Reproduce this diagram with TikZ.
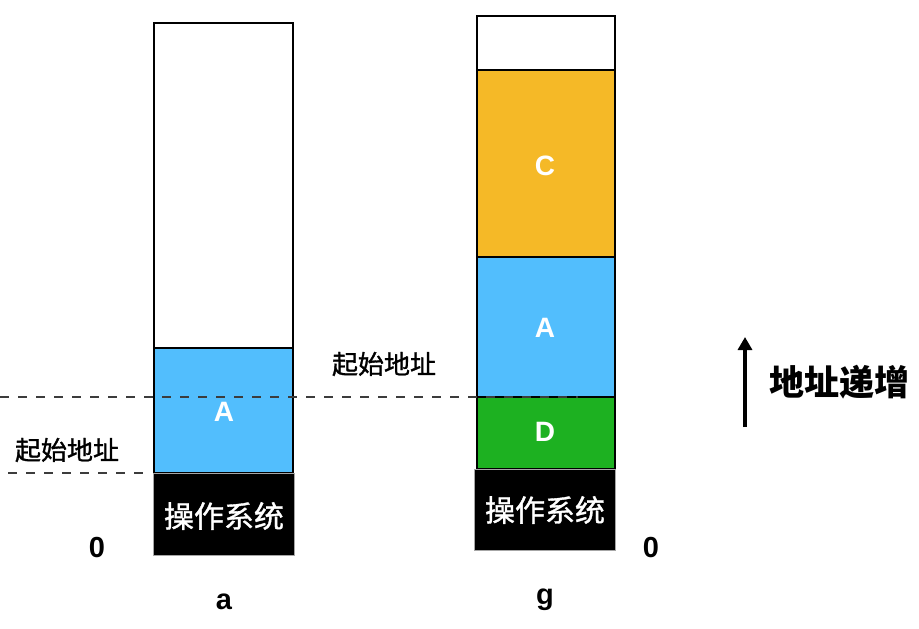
\documentclass[tikz,border=0pt]{standalone}
\usepackage{fontspec}
\setmainfont{Liberation Sans}
\newfontfamily\cjk{Noto Sans CJK SC}
\newfontfamily\cjkmed[FakeBold=1.2]{Noto Sans CJK SC}
\usetikzlibrary{arrows.meta}
\definecolor{memblue}{RGB}{82,190,253}
\definecolor{memorange}{RGB}{245,185,39}
\definecolor{memgreen}{RGB}{29,177,33}
\definecolor{dashgray}{RGB}{60,60,60}
\tikzset{
  seg/.style={draw=black, line width=1.4pt, anchor=north west, inner sep=0pt, outer sep=0pt},
  ostext/.style={text=white, font=\cjkmed\fontsize{30}{30}\selectfont},
  lettertext/.style={text=white, font=\bfseries\fontsize{28}{28}\selectfont},
  addrlabel/.style={font=\cjkmed\fontsize{26}{26}\selectfont},
  axislabel/.style={font=\bfseries\fontsize{29}{29}\selectfont},
  dashline/.style={draw=dashgray, line width=1.8pt, dash pattern=on 9pt off 9pt},
}
\begin{document}
\begin{tikzpicture}[x=1pt,y=-1pt]
\useasboundingbox (0,0) rectangle (919,629);
% left column (a)
\node[seg, fill=white, minimum width=139pt, minimum height=325pt] (afree) at (154,23) {};
\node[seg, fill=memblue, minimum width=139pt, minimum height=125pt] (aA) at (154,348) {};
\node[seg, draw=gray!70, line width=0.8pt, fill=black, minimum width=141pt, minimum height=82pt] (aos) at (153,473) {};
\node[lettertext] (aAt) at (224,412) {A};
\node[ostext] (aost) at (224,516) {操作系统};
% right column (g)
\node[seg, fill=white, minimum width=138pt, minimum height=54pt] (gfree) at (477,16) {};
\node[seg, fill=memorange, minimum width=138pt, minimum height=187pt] (gC) at (477,70) {};
\node[seg, fill=memblue, minimum width=138pt, minimum height=140pt] (gA) at (477,257) {};
\node[seg, fill=memgreen, minimum width=138pt, minimum height=72pt] (gD) at (477,397) {};
\node[seg, draw=gray!70, line width=0.8pt, fill=black, minimum width=141pt, minimum height=81pt] (gos) at (474,469) {};
\node[lettertext] (gCt) at (545,166) {C};
\node[lettertext] (gAt) at (545,328) {A};
\node[lettertext] (gDt) at (545,432) {D};
\node[ostext] (gost) at (545,510) {操作系统};
% dashed address lines
\coordinate (d1s) at (0,397);
\coordinate (d1e) at (578,397);
\draw[dashline] (d1s) -- (d1e);
\coordinate (d2s) at (8,473);
\coordinate (d2e) at (148,473);
\draw[dashline] (d2s) -- (d2e);
\node[addrlabel] (lab1) at (67,450) {起始地址};
\node[addrlabel] (lab2) at (384,364) {起始地址};
% zeros and column names
\node[axislabel] (z1) at (97,548) {0};
\node[axislabel] (z2) at (651,548) {0};
\node[axislabel] (na) at (224,602) {a};
\node[axislabel] (ng) at (545,600) {g};
% address increase arrow
\coordinate (arrS) at (745,427);
\coordinate (arrE) at (745,337);
\draw[line width=3.2pt, -{Triangle[length=13pt,width=14pt]}] (arrS) -- (arrE);
\node[font=\cjk\bfseries\fontsize{35}{35}\selectfont] (inc) at (839,382) {地址递增};
\end{tikzpicture}
\end{document}
